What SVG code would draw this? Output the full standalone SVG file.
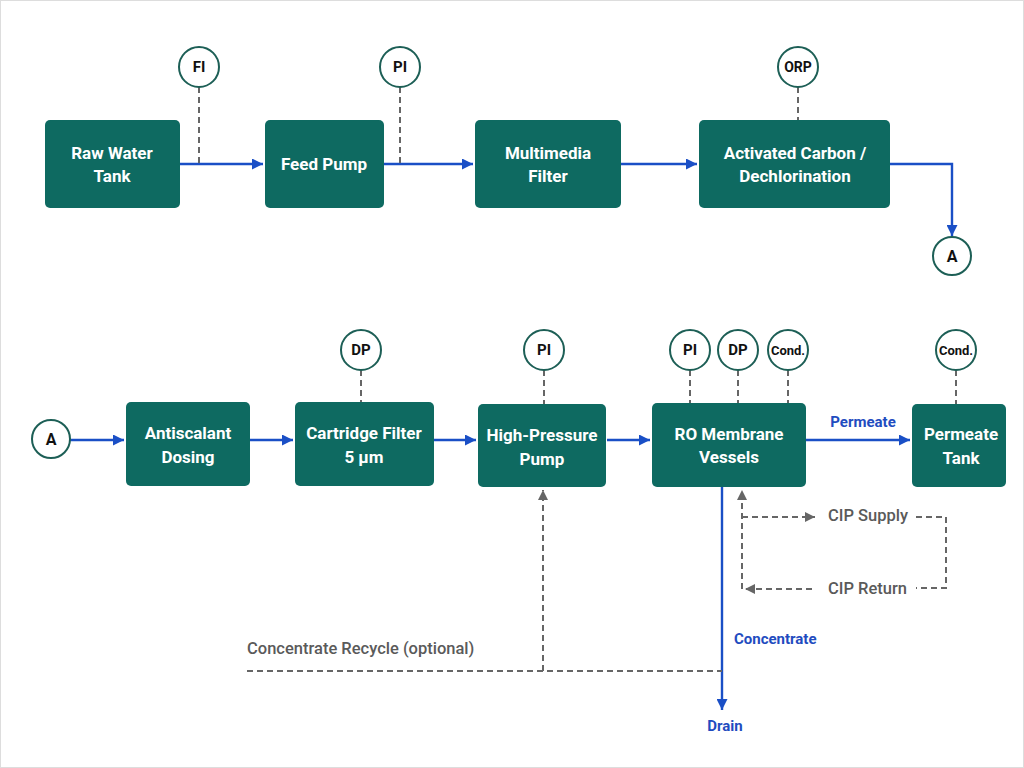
<svg xmlns="http://www.w3.org/2000/svg" width="1024" height="768" viewBox="0 0 1024 768">
<defs>
<style>
.box{fill:#0e6a61;}
.bt{font-family:Roboto,"Liberation Sans",sans-serif;font-weight:700;font-size:17px;fill:#ffffff;text-anchor:middle;dominant-baseline:central;}
.ins{fill:#ffffff;stroke:#1d5f56;stroke-width:2;}
.it{font-family:Roboto,"Liberation Sans",sans-serif;font-weight:700;font-size:15px;fill:#111;text-anchor:middle;dominant-baseline:central;}
.flow{fill:none;stroke:#1a4fc6;stroke-width:2.4;}
.sig{fill:none;stroke:#666;stroke-width:2;stroke-dasharray:6 4;}
.gl{font-family:Roboto,"Liberation Sans",sans-serif;font-weight:500;font-size:16.5px;fill:#5a5a5a;dominant-baseline:central;}
.bl{font-family:Roboto,"Liberation Sans",sans-serif;font-weight:700;font-size:15px;fill:#1f4cc0;dominant-baseline:central;}
</style>
<marker id="ab" viewBox="0 0 10 10" refX="10" refY="5" markerWidth="12" markerHeight="11" orient="auto" markerUnits="userSpaceOnUse">
<path d="M0,0 L10,5 L0,10 z" fill="#1a4fc6"/>
</marker>
<marker id="ag" viewBox="0 0 10 10" refX="10" refY="5" markerWidth="10" markerHeight="10" orient="auto" markerUnits="userSpaceOnUse">
<path d="M0,0 L10,5 L0,10 z" fill="#666"/>
</marker>
</defs>
<rect x="0" y="0" width="1024" height="768" fill="#ffffff"/>
<rect x="0.5" y="0.5" width="1023" height="767" fill="none" stroke="#dddddd"/>

<g id="connectors">
<path class="flow" d="M180,164 H263" marker-end="url(#ab)"/>
<path class="flow" d="M384,164 H473" marker-end="url(#ab)"/>
<path class="flow" d="M621,164 H697" marker-end="url(#ab)"/>
<path class="flow" d="M890,164 H952 V236" marker-end="url(#ab)"/>
<path class="sig" d="M199,87 V164"/>
<path class="sig" d="M400,87 V164"/>
<path class="sig" d="M798,87 V120"/>
<path class="flow" d="M70,440 H124" marker-end="url(#ab)"/>
<path class="flow" d="M250,440 H293" marker-end="url(#ab)"/>
<path class="flow" d="M434,440 H476" marker-end="url(#ab)"/>
<path class="flow" d="M607,440 H650" marker-end="url(#ab)"/>
<path class="flow" d="M806,440 H910" marker-end="url(#ab)"/>
<path class="flow" d="M722,487 V710" marker-end="url(#ab)"/>
<path class="sig" d="M361,370 V402"/>
<path class="sig" d="M544,370 V404"/>
<path class="sig" d="M690,370 V403"/>
<path class="sig" d="M738,370 V403"/>
<path class="sig" d="M788,370 V403"/>
<path class="sig" d="M956,370 V404"/>
<path class="sig" d="M247,671 H722"/>
<path class="sig" d="M543,671 V490" marker-end="url(#ag)"/>
<path class="sig" d="M742,589 V490" marker-end="url(#ag)"/>
<path class="sig" d="M742,517 H815" marker-end="url(#ag)"/>
<path class="sig" d="M916,517 H946 V588 H916"/>
<path class="sig" d="M812,589 H745" marker-end="url(#ag)"/>
</g>

<g id="labels">
<text class="bl" x="863" y="422" text-anchor="middle">Permeate</text>
<text class="bl" x="734" y="639">Concentrate</text>
<text class="bl" x="725" y="726" text-anchor="middle">Drain</text>
<text class="gl" x="247" y="648">Concentrate Recycle (optional)</text>
<text class="gl" x="828" y="515">CIP Supply</text>
<text class="gl" x="828" y="588">CIP Return</text>
</g>

<g id="raw-water-tank"><rect class="box" x="45" y="120" width="135" height="88" rx="5"/><text class="bt" x="112" y="153">Raw Water</text><text class="bt" x="112" y="176">Tank</text></g>
<g id="feed-pump"><rect class="box" x="265" y="120" width="119" height="88" rx="5"/><text class="bt" x="324" y="164">Feed Pump</text></g>
<g id="multimedia-filter"><rect class="box" x="475" y="120" width="146" height="88" rx="5"/><text class="bt" x="548" y="153">Multimedia</text><text class="bt" x="548" y="176">Filter</text></g>
<g id="activated-carbon"><rect class="box" x="699" y="120" width="191" height="88" rx="5"/><text class="bt" x="795" y="153">Activated Carbon /</text><text class="bt" x="795" y="176">Dechlorination</text></g>

<g id="fi-top"><circle class="ins" cx="199" cy="67" r="20"/><text class="it" x="199" y="67">FI</text></g>
<g id="pi-top"><circle class="ins" cx="400" cy="67" r="20"/><text class="it" x="400" y="67">PI</text></g>
<g id="orp-top"><circle class="ins" cx="798" cy="67" r="20"/><text class="it" x="798" y="67" style="font-size:14px">ORP</text></g>
<g id="a-out"><circle class="ins" cx="952" cy="256" r="19"/><text class="it" x="952" y="256" style="font-size:16px">A</text></g>

<g id="a-in"><circle class="ins" cx="51" cy="439" r="19"/><text class="it" x="51" y="439" style="font-size:16px">A</text></g>
<g id="antiscalant-dosing"><rect class="box" x="126" y="402" width="124" height="84" rx="5"/><text class="bt" x="188" y="433">Antiscalant</text><text class="bt" x="188" y="457">Dosing</text></g>
<g id="cartridge-filter"><rect class="box" x="295" y="402" width="139" height="84" rx="5"/><text class="bt" x="364" y="433">Cartridge Filter</text><text class="bt" x="364" y="457">5 µm</text></g>
<g id="high-pressure-pump"><rect class="box" x="478" y="404" width="128" height="83" rx="5"/><text class="bt" x="542" y="435">High-Pressure</text><text class="bt" x="542" y="459">Pump</text></g>
<g id="ro-membrane"><rect class="box" x="652" y="403" width="154" height="84" rx="5"/><text class="bt" x="729" y="434">RO Membrane</text><text class="bt" x="729" y="457">Vessels</text></g>
<g id="permeate-tank"><rect class="box" x="912" y="404" width="94" height="83" rx="5"/><text class="bt" x="961" y="434">Permeate</text><text class="bt" x="961" y="458">Tank</text></g>

<g id="dp-cart"><circle class="ins" cx="361" cy="350" r="20"/><text class="it" x="361" y="350">DP</text></g>
<g id="pi-hp"><circle class="ins" cx="544" cy="350" r="20"/><text class="it" x="544" y="350">PI</text></g>
<g id="pi-ro"><circle class="ins" cx="690" cy="350" r="20"/><text class="it" x="690" y="350">PI</text></g>
<g id="dp-ro"><circle class="ins" cx="738" cy="350" r="20"/><text class="it" x="738" y="350">DP</text></g>
<g id="cond-ro"><circle class="ins" cx="788" cy="350" r="20"/><text class="it" x="788" y="350" style="font-size:13px">Cond.</text></g>
<g id="cond-perm"><circle class="ins" cx="956" cy="350" r="20"/><text class="it" x="956" y="350" style="font-size:13px">Cond.</text></g>
</svg>
